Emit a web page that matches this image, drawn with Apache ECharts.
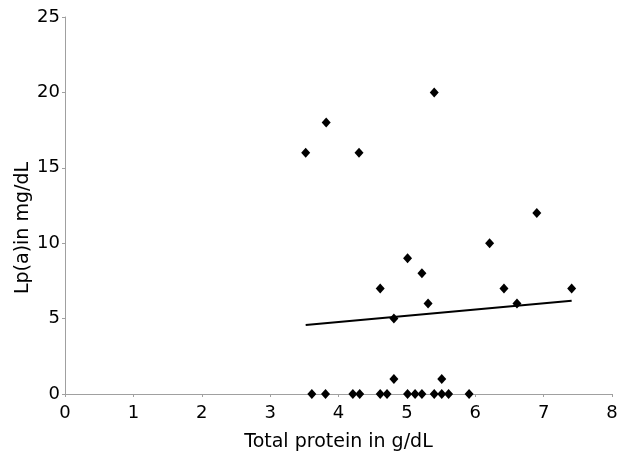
<!DOCTYPE html>
<html>
<head>
<meta charset="utf-8">
<script src="https://cdn.jsdelivr.net/npm/echarts@6/dist/echarts.min.js"></script>
<style>
html,body{margin:0;padding:0;background:#fff;}
#chart{width:625px;height:451px;}
</style>
</head>
<body>
<div id="chart"></div>
<script>
// Total protein (g/dL) values
var proteinValues = [3.52, 3.82, 4.30, 5.40, 6.90, 6.21, 5.01, 5.22, 4.61, 6.42, 7.41, 5.31, 6.61, 4.81, 4.81, 5.51,
  3.61, 3.81, 4.21, 4.31, 4.61, 4.71, 5.01, 5.12, 5.22, 5.40, 5.51, 5.61, 5.91];
// Lp(a) (mg/dL) values
var lpaValues = [16, 18, 16, 20, 12, 10, 9, 8, 7, 7, 7, 6, 6, 5, 1, 1,
  0, 0, 0, 0, 0, 0, 0, 0, 0, 0, 0, 0, 0];
// Linear trend line endpoints
var trendX = [3.52, 7.41];
var trendY = [4.58, 6.19];

var xAxisName = 'Total protein in g/dL';
var yAxisName = 'Lp(a)in mg/dL';

var scatterData = proteinValues.map(function (x, i) { return [x, lpaValues[i]]; });
var trendData = trendX.map(function (x, i) { return [x, trendY[i]]; });

var chart = echarts.init(document.getElementById('chart'));
var font = 'DejaVu Sans';
chart.setOption({
  animation: false,
  backgroundColor: '#ffffff',
  grid: { left: 65, right: 13, top: 17, bottom: 57, containLabel: false, outerBoundsMode: 'none' },
  xAxis: {
    type: 'value', min: 0, max: 8, interval: 1,
    name: xAxisName, nameLocation: 'middle', nameGap: 39,
    nameTextStyle: { fontFamily: font, fontSize: 19, color: '#000' },
    axisLine: { show: true, onZero: false, lineStyle: { color: '#a0a0a0', width: 1 } },
    axisTick: { show: true, inside: false, length: 3, lineStyle: { color: '#a0a0a0' } },
    axisLabel: { fontFamily: font, fontSize: 18, color: '#000', margin: 10 },
    splitLine: { show: false }
  },
  yAxis: {
    type: 'value', min: 0, max: 25, interval: 5,
    axisLine: { show: true, onZero: false, lineStyle: { color: '#a0a0a0', width: 1 } },
    axisTick: { show: true, inside: false, length: 3, lineStyle: { color: '#a0a0a0' } },
    axisLabel: { fontFamily: font, fontSize: 18, color: '#000', margin: 5 },
    splitLine: { show: false }
  },
  graphic: [{
    type: 'text',
    x: 23, y: 228,
    rotation: Math.PI / 2,
    style: {
      text: yAxisName, fontFamily: font, fontSize: 19, fill: '#000',
      align: 'center', verticalAlign: 'middle'
    }
  }],
  series: [{
    type: 'scatter',
    data: scatterData,
    symbol: 'diamond',
    symbolSize: [9, 10],
    itemStyle: { color: '#000', opacity: 1 },
    z: 3
  }, {
    type: 'line',
    data: trendData,
    symbol: 'none',
    lineStyle: { color: '#000', width: 2 },
    z: 2
  }]
});
</script>
</body>
</html>
